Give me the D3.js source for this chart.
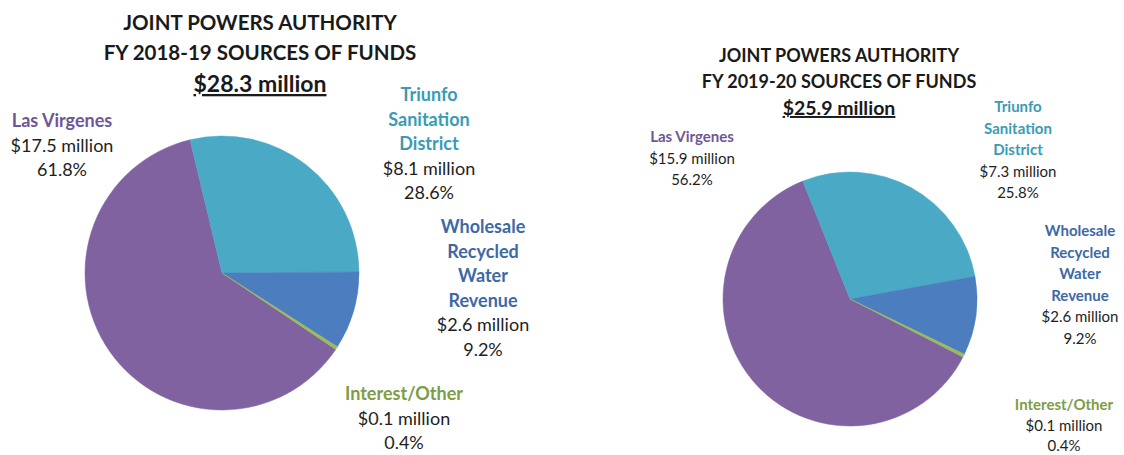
<!DOCTYPE html>
<html>
<head>
<meta charset="utf-8">
<script src="https://cdn.jsdelivr.net/npm/d3@7"></script>
<style>
  html, body { margin: 0; padding: 0; background: #fff; }
  svg { display: block; font-family: Lato, "Open Sans", sans-serif; }
</style>
</head>
<body>
<svg id="chart" width="1124" height="455"></svg>
<script>
// ---- data ----
const categories = ["Las Virgenes", "Triunfo Sanitation District", "Wholesale Recycled Water Revenue", "Interest/Other"];
const nameLines = [["Las Virgenes"], ["Triunfo", "Sanitation", "District"], ["Wholesale", "Recycled", "Water", "Revenue"], ["Interest/Other"]];
const titles = [["JOINT POWERS AUTHORITY", "FY 2018-19 SOURCES OF FUNDS"], ["JOINT POWERS AUTHORITY", "FY 2019-20 SOURCES OF FUNDS"]];
const totals = ["$28.3 million", "$25.9 million"];
const values1819 = [17.5, 8.1, 2.6, 0.1];
const values1920 = [15.9, 7.3, 2.6, 0.1];
const amount1819 = ["$17.5 million", "$8.1 million", "$2.6 million", "$0.1 million"];
const amount1920 = ["$15.9 million", "$7.3 million", "$2.6 million", "$0.1 million"];
const pct1819 = ["61.8%", "28.6%", "9.2%", "0.4%"];
const pct1920 = ["56.2%", "25.8%", "9.2%", "0.4%"];

const sliceColors = ["#8062a1", "#4aaac5", "#4c7ebf", "#9bbb59"];
const labelColors = ["#6d5797", "#3a9bb4", "#3d68a6", "#7e9c45"];

const svg = d3.select("#chart");
const color = d3.scaleOrdinal().domain(categories).range(sliceColors);
const lcolor = d3.scaleOrdinal().domain(categories).range(labelColors);
const deg = Math.PI / 180;

const charts = [
  {
    values: values1819, amounts: amount1819, pcts: pct1819, title: titles[0], total: totals[0],
    cx: 222, cy: 273, r: 137, firstEdge: -13.5,
    titleX: 260, titleY: [30, 60, 92], titleSize: 20.5, totalSize: 23,
    labelSize: 18, lineH: 24.5,
    labels: [{x: 62, y: 121}, {x: 429, y: 95}, {x: 483, y: 227}, {x: 404, y: 394}]
  },
  {
    values: values1920, amounts: amount1920, pcts: pct1920, title: titles[1], total: totals[1],
    cx: 850, cy: 299, r: 127, firstEdge: -21.8,
    titleX: 839, titleY: [62, 88, 115], titleSize: 18, totalSize: 19.5,
    labelSize: 15, lineH: 21.5,
    labels: [{x: 692, y: 137}, {x: 1018, y: 107}, {x: 1080, y: 231}, {x: 1064, y: 405}]
  }
];

charts.forEach(c => {
  const rows = categories.map((k, i) => ({ key: k, value: c.values[i], i }));
  const sum = d3.sum(c.values);
  const lvAngle = c.values[0] / sum * 360;
  const start = (c.firstEdge - lvAngle) * deg;
  const pie = d3.pie().sort(null).value(d => d.value).startAngle(start).endAngle(start + 2 * Math.PI);
  const arc = d3.arc().innerRadius(0).outerRadius(c.r);

  const g = svg.append("g").attr("transform", `translate(${c.cx},${c.cy})`);
  g.selectAll("path").data(pie(rows)).join("path")
    .attr("d", arc)
    .attr("fill", d => color(d.data.key))
    .attr("stroke", d => color(d.data.key))
    .attr("stroke-width", 0.5);

  // title
  const t = svg.append("g").attr("text-anchor", "middle").attr("fill", "#1a1a1a").attr("font-weight", 700);
  c.title.forEach((line, i) => {
    t.append("text").attr("x", c.titleX).attr("y", c.titleY[i])
      .attr("font-size", c.titleSize).text(line);
  });
  t.append("text").attr("x", c.titleX).attr("y", c.titleY[2])
    .attr("font-size", c.totalSize).attr("text-decoration", "underline").text(c.total);

  // labels
  rows.forEach((d, i) => {
    const p = c.labels[i];
    const lg = svg.append("g").attr("text-anchor", "middle").attr("font-size", c.labelSize);
    const lines = nameLines[i].map(s => ({ s, bold: true }))
      .concat([{ s: c.amounts[i], bold: false }, { s: c.pcts[i], bold: false }]);
    const lh = i === 3 && c === charts[1] ? 20.5 : c.lineH;
    lines.forEach((ln, j) => {
      lg.append("text")
        .attr("x", p.x).attr("y", p.y + j * lh)
        .attr("dy", "0.35em")
        .attr("font-weight", ln.bold ? 700 : 400)
        .attr("fill", ln.bold ? lcolor(d.key) : "#1e1e1e")
        .text(ln.s);
    });
  });
});
</script>
</body>
</html>
